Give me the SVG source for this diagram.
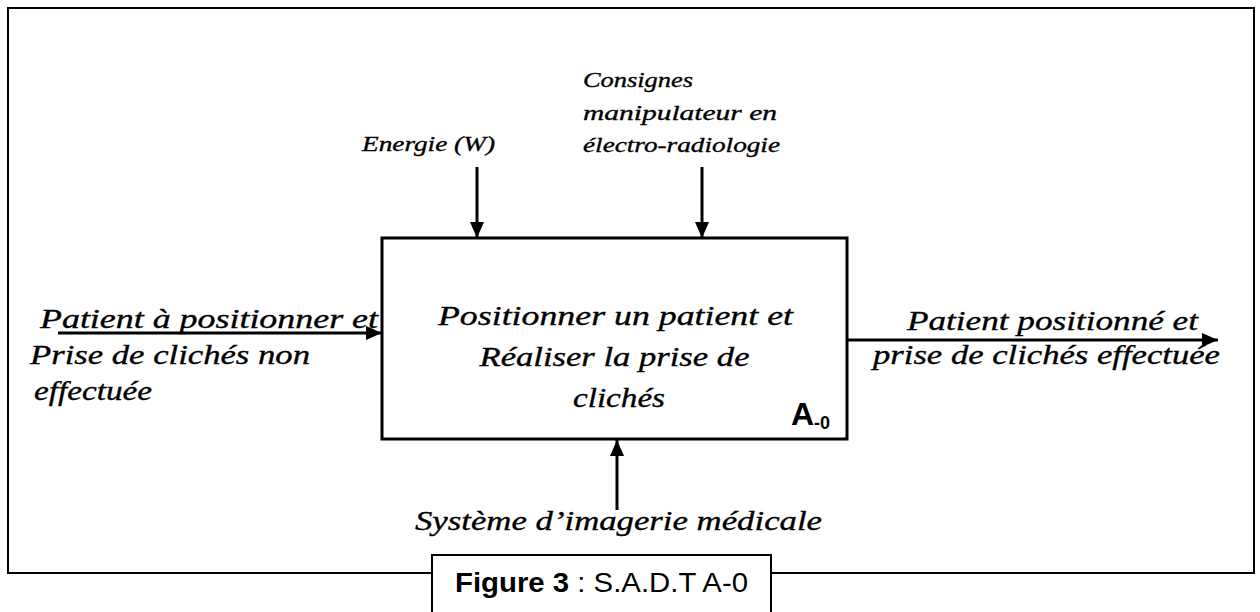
<svg xmlns="http://www.w3.org/2000/svg" width="1260" height="612" viewBox="0 0 1260 612">
  <style>
    .frame { fill: none; stroke: #000; stroke-width: 2; }
    .box { fill: #fff; stroke: #000; stroke-width: 3; }
    .flow { fill: none; stroke: #000; stroke-width: 3; marker-end: url(#head); }
    .lbl { font-family: "Liberation Serif", "DejaVu Serif", serif; font-style: italic; fill: #000; stroke: #000; stroke-width: 0.35; }
    .big { font-size: 28px; }
    .small { font-size: 22px; }
    .sans { font-family: "Liberation Sans", Arial, sans-serif; fill: #000; }
  </style>
  <defs>
    <marker id="head" markerUnits="userSpaceOnUse" markerWidth="16" markerHeight="14" refX="16" refY="7" orient="auto">
      <path d="M0,0 L16,7 L0,14 z" fill="#000"/>
    </marker>
  </defs>

  <!-- outer frame -->
  <rect class="frame" x="8" y="8" width="1246" height="565"/>

  <!-- flows -->
  <g id="connectors">
    <line class="flow" x1="477" y1="167" x2="477" y2="238"/>
    <line class="flow" x1="702" y1="167" x2="702" y2="238"/>
    <line class="flow" x1="58" y1="333" x2="382" y2="333"/>
    <line class="flow" x1="848" y1="340" x2="1218" y2="340"/>
    <line class="flow" x1="617" y1="510" x2="617" y2="440"/>
  </g>

  <!-- activity box A-0 -->
  <g id="activity">
    <rect class="box" x="382" y="238" width="465" height="201"/>
    <text class="lbl big" text-anchor="middle">
      <tspan x="619" y="325" textLength="355" lengthAdjust="spacingAndGlyphs">Positionner un patient et</tspan>
      <tspan x="618" y="366" textLength="270" lengthAdjust="spacingAndGlyphs">Réaliser la prise de</tspan>
      <tspan x="619" y="407" textLength="92" lengthAdjust="spacingAndGlyphs">clichés</tspan>
    </text>
    <text class="sans" x="791" y="425" font-size="32" font-weight="bold">A</text>
    <text class="sans" x="814" y="429" font-size="18" font-weight="bold">-0</text>
  </g>

  <!-- control: energy -->
  <g id="control-energie">
    <text class="lbl small" x="362" y="151" textLength="133" lengthAdjust="spacingAndGlyphs">Energie (W)</text>
  </g>

  <!-- control: operator instructions -->
  <g id="control-consignes">
    <text class="lbl small">
      <tspan x="583" y="87" textLength="110" lengthAdjust="spacingAndGlyphs">Consignes</tspan>
      <tspan x="583" y="120" textLength="194" lengthAdjust="spacingAndGlyphs">manipulateur en</tspan>
      <tspan x="583" y="152" textLength="197" lengthAdjust="spacingAndGlyphs">électro-radiologie</tspan>
    </text>
  </g>

  <!-- input -->
  <g id="input">
    <text class="lbl big">
      <tspan x="40" y="328" textLength="338" lengthAdjust="spacingAndGlyphs">Patient à positionner et</tspan>
      <tspan x="30" y="364" textLength="280" lengthAdjust="spacingAndGlyphs">Prise de clichés non</tspan>
      <tspan x="34" y="400" textLength="118" lengthAdjust="spacingAndGlyphs">effectuée</tspan>
    </text>
  </g>

  <!-- output -->
  <g id="output">
    <text class="lbl big">
      <tspan x="907" y="330" textLength="291" lengthAdjust="spacingAndGlyphs">Patient positionné et</tspan>
      <tspan x="873" y="364" textLength="347" lengthAdjust="spacingAndGlyphs">prise de clichés effectuée</tspan>
    </text>
  </g>

  <!-- mechanism -->
  <g id="mechanism">
    <text class="lbl big" x="415" y="530" textLength="407" lengthAdjust="spacingAndGlyphs">Système d’imagerie médicale</text>
  </g>

  <!-- caption -->
  <g id="caption">
    <rect x="432" y="555" width="339" height="70" fill="#fff" stroke="#000" stroke-width="2"/>
    <text class="sans" x="455" y="592" font-size="28" textLength="293" lengthAdjust="spacingAndGlyphs"><tspan font-weight="bold">Figure 3</tspan> : S.A.D.T A-0</text>
  </g>
</svg>
